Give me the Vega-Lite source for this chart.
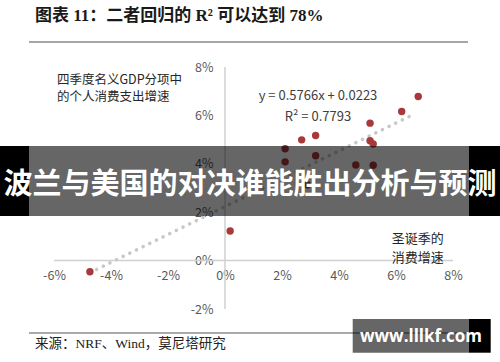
{
  "$schema": "https://vega.github.io/schema/vega-lite/v6.json",
  "width": 399,
  "height": 242,
  "autosize": "none",
  "padding": {"left": 54, "top": 67, "right": 47, "bottom": 53},
  "background": "white",
  "config": {"view": {"stroke": null}},
  "datasets": {
    "points": [
      {"x": 0.0678, "y": 0.0678},
      {"x": 0.0620, "y": 0.0616},
      {"x": 0.0509, "y": 0.0568},
      {"x": 0.0318, "y": 0.0517},
      {"x": 0.0269, "y": 0.0499},
      {"x": 0.0509, "y": 0.0495},
      {"x": 0.0520, "y": 0.0482},
      {"x": 0.0211, "y": 0.0462},
      {"x": 0.0318, "y": 0.0433},
      {"x": 0.0211, "y": 0.0408},
      {"x": 0.0459, "y": 0.0395},
      {"x": 0.0520, "y": 0.0394},
      {"x": 0.0289, "y": 0.0313},
      {"x": 0.0018, "y": 0.0122},
      {"x": -0.0474, "y": -0.0046}
    ],
    "trend": [
      {"x": -0.0474, "y": -0.0050},
      {"x": 0.0665, "y": 0.0606}
    ]
  },
  "layer": [
    {
      "data": {"values": [{}]},
      "mark": {"type": "rule", "color": "#d0d0d0", "strokeWidth": 1.5},
      "encoding": {"y": {"datum": 0, "type": "quantitative", "scale": {"domain": [-0.02, 0.08]}}}
    },
    {
      "data": {"values": [{}]},
      "mark": {"type": "rule", "color": "#d0d0d0", "strokeWidth": 1.5},
      "encoding": {"x": {"datum": 0, "type": "quantitative", "scale": {"domain": [-0.06, 0.08]}}}
    },
    {
      "data": {"name": "trend"},
      "mark": {"type": "line", "color": "#c8c8c8", "strokeWidth": 3.5, "strokeDash": [0.1, 7.3], "strokeCap": "round"},
      "encoding": {
        "x": {"field": "x", "type": "quantitative"},
        "y": {"field": "y", "type": "quantitative"}
      }
    },
    {
      "data": {"name": "points"},
      "mark": {"type": "circle", "color": "#a8383a", "opacity": 1, "size": 55},
      "encoding": {
        "x": {
          "field": "x", "type": "quantitative",
          "scale": {"domain": [-0.06, 0.08], "nice": false, "zero": false},
          "axis": {
            "title": null, "values": [-0.06, -0.04, -0.02, 0, 0.02, 0.04, 0.06, 0.08],
            "labelExpr": "replace(format(datum.value, '.0%'), '\u2212', '-')",
            "offset": -48.4, "domain": false, "ticks": false, "grid": false,
            "labelPadding": 9, "labelFont": "Noto Sans CJK SC", "labelFontSize": 12.5,
            "labelColor": "#595959", "labelFlush": false, "labelOverlap": false, "labelBound": false
          }
        },
        "y": {
          "field": "y", "type": "quantitative",
          "scale": {"domain": [-0.02, 0.08], "nice": false, "zero": false},
          "axis": {
            "title": null, "values": [-0.02, 0, 0.02, 0.04, 0.06, 0.08],
            "labelExpr": "replace(format(datum.value, '.0%'), '\u2212', '-')",
            "offset": -171, "domain": false, "ticks": false, "grid": false,
            "labelPadding": 12, "labelFont": "Noto Sans CJK SC", "labelFontSize": 12.5,
            "labelColor": "#595959", "labelFlush": false, "labelOverlap": false, "labelBound": false
          }
        }
      }
    },
    {
      "data": {"values": [{}]},
      "mark": {"type": "text", "text": "四季度名义GDP分项中\n的个人消费支出增速", "lineBreak": "\n", "align": "left", "baseline": "middle", "font": "Noto Sans CJK SC", "fontSize": 12.5, "lineHeight": 17, "color": "#262626"},
      "encoding": {"x": {"datum": -0.05895, "type": "quantitative"}, "y": {"datum": 0.07483, "type": "quantitative"}}
    },
    {
      "data": {"values": [{}]},
      "mark": {"type": "text", "text": "y = 0.5766x + 0.0223\nR² = 0.7793", "lineBreak": "\n", "align": "center", "baseline": "middle", "font": "Noto Sans CJK SC", "fontSize": 13, "lineHeight": 21, "color": "#404040"},
      "encoding": {"x": {"datum": 0.03263, "type": "quantitative"}, "y": {"datum": 0.06781, "type": "quantitative"}}
    },
    {
      "data": {"values": [{}]},
      "mark": {"type": "text", "text": "圣诞季的\n消费增速", "lineBreak": "\n", "align": "left", "baseline": "middle", "font": "Noto Sans CJK SC", "fontSize": 13, "lineHeight": 19, "color": "#262626"},
      "encoding": {"x": {"datum": 0.05849, "type": "quantitative"}, "y": {"datum": 0.00913, "type": "quantitative"}}
    },
    {
      "data": {"values": [{}]},
      "mark": {"type": "text", "text": "图表 11：二者回归的 R² 可以达到 78%", "align": "left", "baseline": "middle", "font": "Liberation Serif, Noto Sans CJK SC", "fontSize": 17, "fontWeight": "bold", "color": "#1a1a1a"},
      "encoding": {"x": {"datum": -0.06667, "type": "quantitative"}, "y": {"datum": 0.10107, "type": "quantitative"}}
    },
    {
      "data": {"values": [{}]},
      "mark": {"type": "rule", "color": "#a6a6a6", "strokeWidth": 2},
      "encoding": {"x": {"datum": -0.06877, "type": "quantitative"}, "x2": {"datum": 0.08526}, "y": {"datum": 0.09033, "type": "quantitative"}}
    },
    {
      "data": {"values": [{}]},
      "mark": {"type": "rule", "color": "#8c8c8c", "strokeWidth": 1.5},
      "encoding": {"x": {"datum": -0.06877, "type": "quantitative"}, "x2": {"datum": 0.08596}, "y": {"datum": -0.02992, "type": "quantitative"}}
    },
    {
      "data": {"values": [{}]},
      "mark": {"type": "text", "text": "来源：NRF、Wind，莫尼塔研究", "align": "left", "baseline": "middle", "font": "Liberation Serif, Noto Sans CJK SC", "fontSize": 13.5, "color": "#222222"},
      "encoding": {"x": {"datum": -0.06667, "type": "quantitative"}, "y": {"datum": -0.03446, "type": "quantitative"}}
    },
    {
      "data": {"values": [{}]},
      "mark": {"type": "rect", "color": "black", "opacity": 0.6},
      "encoding": {"x": {"datum": -0.06877, "type": "quantitative"}, "x2": {"datum": 0.08561}, "y": {"datum": 0.04736, "type": "quantitative"}, "y2": {"datum": 0.01843}}
    },
    {
      "data": {"values": [{}]},
      "mark": {"type": "rect", "color": "black", "opacity": 1},
      "encoding": {"x": {"datum": -0.07895, "type": "quantitative"}, "x2": {"datum": -0.06877}, "y": {"datum": 0.04736, "type": "quantitative"}, "y2": {"datum": 0.01843}}
    },
    {
      "data": {"values": [{}]},
      "mark": {"type": "rect", "color": "black", "opacity": 1},
      "encoding": {"x": {"datum": 0.08561, "type": "quantitative"}, "x2": {"datum": 0.09649}, "y": {"datum": 0.04736, "type": "quantitative"}, "y2": {"datum": 0.01843}}
    },
    {
      "data": {"values": [{}]},
      "mark": {"type": "text", "text": "波兰与美国的对决谁能胜出分析与预测", "align": "center", "baseline": "middle", "font": "Noto Sans CJK SC", "fontSize": 29, "fontWeight": "bold", "color": "white"},
      "encoding": {"x": {"datum": 0.00877, "type": "quantitative"}, "y": {"datum": 0.03124, "type": "quantitative"}}
    },
    {
      "data": {"values": [{}]},
      "mark": {"type": "rect", "color": "black", "opacity": 0.6},
      "encoding": {"x": {"datum": 0.04481, "type": "quantitative"}, "x2": {"datum": 0.08561}, "y": {"datum": -0.02413, "type": "quantitative"}, "y2": {"datum": -0.03806}}
    },
    {
      "data": {"values": [{}]},
      "mark": {"type": "rect", "color": "black", "opacity": 1},
      "encoding": {"x": {"datum": 0.08561, "type": "quantitative"}, "x2": {"datum": 0.09323}, "y": {"datum": -0.02413, "type": "quantitative"}, "y2": {"datum": -0.03806}}
    },
    {
      "data": {"values": [{}]},
      "mark": {"type": "text", "text": "www.lllkf.com", "align": "center", "baseline": "middle", "font": "Open Sans", "fontSize": 17, "fontWeight": "bold", "color": "white"},
      "encoding": {"x": {"datum": 0.06877, "type": "quantitative"}, "y": {"datum": -0.03157, "type": "quantitative"}}
    }
  ]
}
